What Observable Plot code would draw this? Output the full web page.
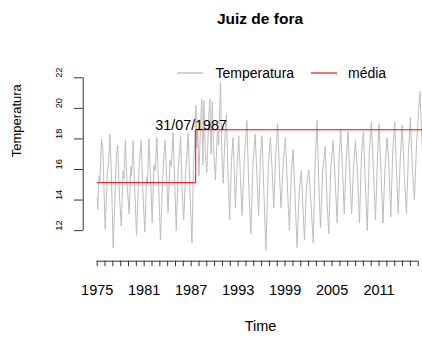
<!DOCTYPE html>
<html><head><meta charset="utf-8">
<script src="https://cdn.jsdelivr.net/npm/d3@7"></script>
<script src="https://cdn.jsdelivr.net/npm/@observablehq/plot@0.6"></script>
<style>
html,body{margin:0;padding:0;background:#fff;}
#wrap{position:relative;width:422px;height:338px;overflow:hidden;font-family:"Liberation Sans",Arial,sans-serif;color:#000;background:#fff;}
#wrap svg{position:absolute;left:0;top:0;}
.t{position:absolute;line-height:1;white-space:nowrap;}
.sw{position:absolute;height:2px;}
</style></head><body><div id="wrap"></div>
<script>
// ---- data ----
const titleText = "Juiz de fora";
const xTitle = "Time";
const yTitle = "Temperatura";
const legendLabels = ["Temperatura", "média"];
const legendColors = ["#d2d2d2", "#f27474"];

const times = [
 1975.00,1975.07,1975.25,1975.35,1975.55,1975.72,1976.02,1976.30,1976.45,1976.62,1976.80,
 1977.04,1977.30,1977.45,1977.62,1977.85,1978.08,1978.30,1978.42,1978.60,1978.80,
 1979.08,1979.30,1979.40,1979.60,1979.78,1980.02,1980.25,1980.40,1980.62,1980.82,
 1981.08,1981.30,1981.42,1981.60,1981.80,1982.02,1982.25,1982.40,1982.62,1982.85,
 1983.08,1983.35,1983.50,1983.68,1983.88,1984.05,1984.30,1984.45,1984.70,1984.88,
 1985.10,1985.35,1985.50,1985.65,1985.85,1986.05,1986.30,1986.45,1986.62,1986.85,
 1987.10,1987.30,1987.45,1987.60,1987.75,1987.85,1988.00,1988.20,1988.35,1988.50,1988.62,1988.80,
 1989.00,1989.25,1989.40,1989.55,1989.70,1989.85,1990.10,1990.35,1990.50,1990.75,1990.90,
 1991.10,1991.30,1991.50,1991.70,1991.92,1992.15,1992.35,1992.50,1992.65,1992.85,
 1993.08,1993.30,1993.50,1993.80,1994.12,1994.35,1994.62,1994.90,1995.18,1995.40,1995.62,1995.85,
 1996.05,1996.30,1996.55,1996.85,1997.12,1997.35,1997.55,1997.80,1998.06,1998.30,1998.48,1998.75,
 1999.04,1999.30,1999.55,1999.80,2000.02,2000.28,2000.53,2000.80,2001.08,2001.28,2001.47,2001.75,
 2002.02,2002.30,2002.60,2002.85,2003.08,2003.30,2003.52,2003.80,2004.12,2004.35,2004.57,2004.85,
 2005.15,2005.40,2005.65,2005.90,2006.10,2006.35,2006.55,2006.80,2007.04,2007.28,2007.50,2007.75,
 2007.98,2008.25,2008.50,2008.75,2009.00,2009.25,2009.50,2009.75,2010.02,2010.30,2010.55,2010.78,
 2010.98,2011.25,2011.50,2011.75,2012.02,2012.25,2012.50,2012.75,2013.00,2013.22,2013.45,2013.70,
 2013.95,2014.25,2014.50,2014.75,2015.00,2015.25,2015.52,2015.80,2016.05,2016.22,2016.50
];
const temps = [
 14.2,13.4,15.6,15.2,18.0,17.3,12.1,15.8,16.4,18.3,15.9,
 10.9,14.6,16.9,17.6,14.2,12.3,15.9,15.4,17.9,15.2,
 13.1,16.2,15.6,17.9,15.0,11.7,14.9,16.6,17.9,14.7,
 11.9,15.5,15.1,18.0,15.6,12.5,16.3,15.9,18.1,14.8,
 11.4,15.2,16.8,17.9,15.3,13.2,16.6,16.2,18.4,15.4,
 12.0,16.0,17.0,18.2,14.6,12.7,15.8,16.9,18.4,14.5,
 11.2,16.3,17.7,20.2,17.4,18.6,15.6,18.9,20.6,16.3,20.5,17.2,
 15.8,19.5,20.6,17.0,20.4,17.5,15.3,18.5,17.6,21.7,17.4,
 15.1,18.0,19.6,15.9,12.7,16.6,18.1,16.2,13.5,16.0,
 18.2,15.4,13.0,16.8,19.2,15.0,11.8,16.4,18.3,15.6,13.0,16.9,
 18.2,14.4,10.7,16.1,18.1,15.9,13.5,17.0,19.0,15.5,13.5,16.4,
 18.1,14.8,12.0,15.9,17.3,14.2,10.9,14.6,15.9,13.4,11.4,15.0,
 16.0,13.8,11.2,16.6,19.2,15.1,12.2,15.9,17.5,14.0,11.8,16.2,
 17.9,15.2,12.5,16.8,18.6,15.8,13.1,16.5,18.5,15.4,13.1,16.2,
 17.9,15.7,12.5,16.9,18.5,15.0,12.0,17.1,19.1,15.6,12.7,16.5,
 19.0,15.8,12.5,16.0,18.1,16.4,12.9,17.2,19.1,16.0,13.1,16.6,
 18.9,15.5,13.1,17.0,19.4,16.2,14.0,17.8,19.8,21.1,17.6
];

// mean levels before / after the change point
const meanDates = [1975, 1987.58, 2016.55];
const meanValues = [15.14, 18.6, 18.6];
const changeLabel = "31/07/1987";
const changeLabelYear = 1987;

// axes
const xTickYears = d3.range(1975, 2017);          // 1975 ... 2016
const xLabelYears = [1975, 1981, 1987, 1993, 1999, 2005, 2011];
const yTicks = [12, 14, 16, 18, 20, 22];
const yDomain = [10, 22];

// ---- build tables ----
const series = times.map((t, i) => ({t, v: temps[i]}));
const meanData = meanDates.map((t, i) => ({t, v: meanValues[i]}));
const labelData = [{t: changeLabelYear, v: meanValues[1], label: changeLabel}];

const font = "Liberation Sans, Arial, sans-serif";
const axisColor = "#333";

const chart = Plot.plot({
  width: 422, height: 338,
  marginLeft: 96.7, marginRight: 4.3, marginTop: 77.3, marginBottom: 77.3,
  style: {fontFamily: font, background: "transparent", overflow: "visible", color: "#000"},
  x: {domain: [xTickYears[0], xTickYears[xTickYears.length - 1]], label: null},
  y: {domain: yDomain, label: null},
  marks: [
    Plot.line(series, {x: "t", y: "v", stroke: "#bebebe", strokeWidth: 1}),
    Plot.line(meanData, {x: "t", y: "v", stroke: "red", strokeWidth: 1, curve: "step-after"}),
    Plot.text(labelData, {x: "t", y: "v", text: "label", lineAnchor: "bottom", fontSize: 14.3, fill: "#000"}),
    // x axis
    Plot.ruleY([yDomain[0]], {x1: xTickYears[0], x2: xTickYears[xTickYears.length - 1], stroke: axisColor}),
    Plot.axisX(xTickYears, {tickSize: 5.5, stroke: axisColor, fill: "none", label: null}),
    Plot.axisX(xLabelYears, {tickSize: 0, tickPadding: 23.3, tickFormat: "d", fontSize: 14.5, fill: "#000", label: null}),
    Plot.text([xTitle], {frameAnchor: "bottom", dx: 2.8, dy: 70, lineAnchor: "bottom", fontSize: 14.5, fill: "#000"}),
    // y axis
    Plot.ruleX([xTickYears[0]], {y1: yTicks[0], y2: yTicks[yTicks.length - 1], dx: -14, stroke: axisColor}),
    Plot.axisY(yTicks, {tickSize: 8.7, dx: -14, stroke: axisColor, fill: "none", label: null}),
    Plot.text(yTicks, {y: d => d, text: d => String(d), frameAnchor: "left", dx: -38, rotate: -90, fontSize: 9.3, fill: "#000"}),
    Plot.text([yTitle], {frameAnchor: "left", dx: -80.4, dy: -12.3, rotate: -90, fontSize: 13, fill: "#000"})
  ]
});

const wrap = document.getElementById("wrap");
wrap.appendChild(chart);

// title
const title = document.createElement("div");
title.className = "t";
title.textContent = titleText;
title.style.cssText = "left:160px;width:200px;text-align:center;top:10.9px;font-size:15.5px;font-weight:bold;";
wrap.appendChild(title);

// legend
const swX = [176.7, 311];
const txtX = [215.5, 348];
legendLabels.forEach((lab, i) => {
  const sw = document.createElement("div");
  sw.className = "sw";
  sw.style.cssText = `left:${swX[i]}px;top:71.7px;width:26px;background:${legendColors[i]};`;
  wrap.appendChild(sw);
  const tx = document.createElement("div");
  tx.className = "t";
  tx.textContent = lab;
  tx.style.cssText = `left:${txtX[i]}px;top:66.4px;font-size:14px;`;
  wrap.appendChild(tx);
});
</script></body></html>
